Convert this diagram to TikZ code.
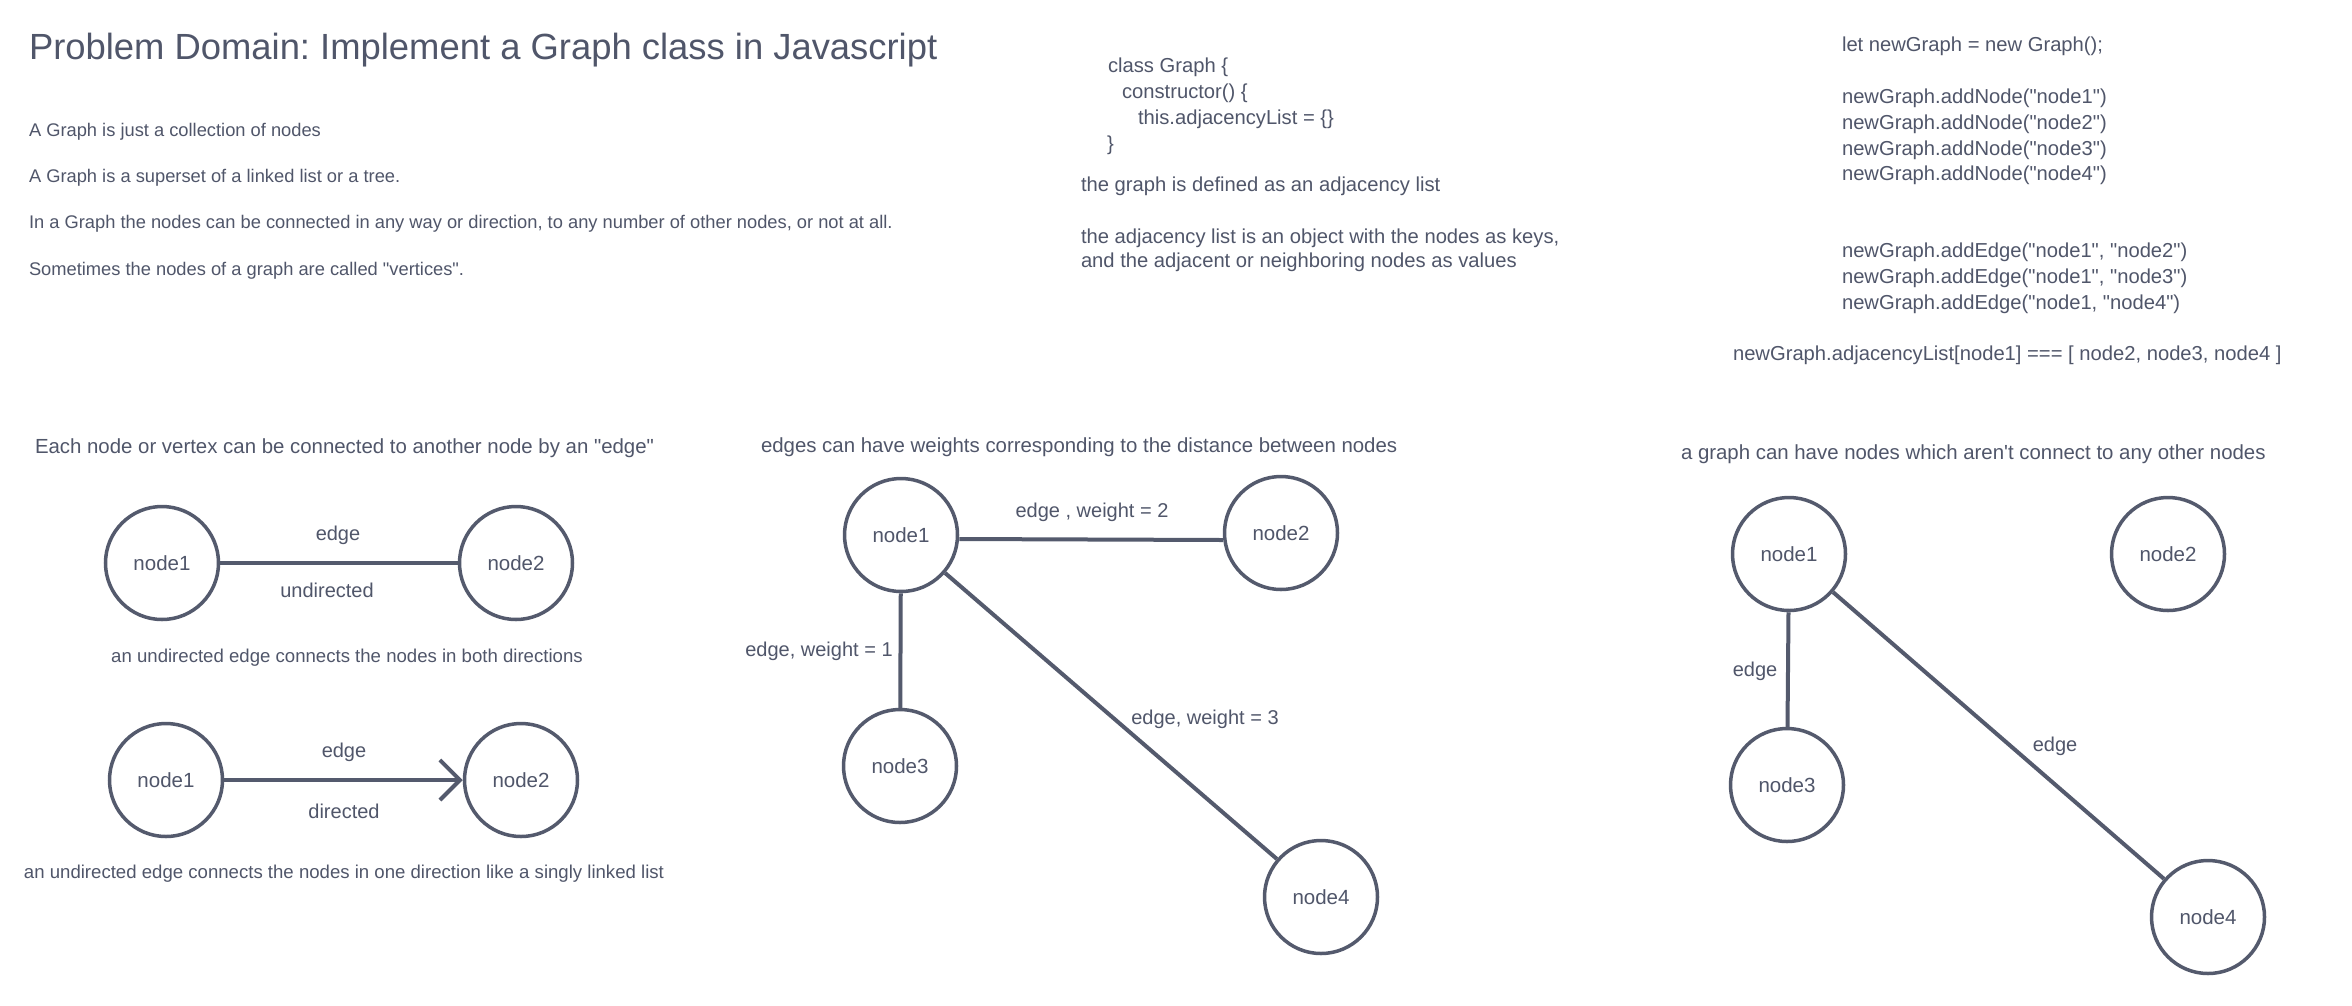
\documentclass[tikz,border=0pt]{standalone}
\usepackage{fontspec}
\setmainfont{Liberation Sans}[Ligatures=TeXOff]
\usetikzlibrary{arrows.meta}
\definecolor{ink}{HTML}{545A6D}
\definecolor{txtc}{HTML}{50566A}
\newcommand\myfs[1]{\fontsize{#1}{#1}\selectfont}
\frenchspacing
\begin{document}
\begin{tikzpicture}[x=1pt,y=-1pt,
  base/.style={text=txtc, inner sep=0pt, outer sep=0pt},
  lbl/.style={base, yshift=-5.5pt},
  titletxt/.style={base, font=\myfs{36.4}},
  bodytxt/.style={lbl, anchor=mid west, font=\myfs{18.3}},
  codetxt/.style={lbl, anchor=mid west, font=\myfs{20.2}},
  headtxt/.style={lbl, anchor=mid west, font=\myfs{20.4}},
  captxt/.style={lbl, anchor=mid, font=\myfs{18.6}},
  edgetxt/.style={lbl, anchor=mid, font=\myfs{20}},
  gnode/.style={circle, draw=ink, line width=3.5pt, minimum size=113pt, inner sep=0pt,
     text=txtc, font=\myfs{20.5}},
  conn/.style={draw=ink, line width=4pt},
  dconn/.style={conn, -{Straight Barb[length=20pt,width=40pt]}}]
\useasboundingbox[fill=white] (0,0) rectangle (2352,1005);

% ---- intro text
\node[titletxt, anchor=base west] (title) at (29,59) {Problem Domain: Implement a Graph class in Javascript};
\node[bodytxt] (l1) at (29,128) {A Graph is just a collection of nodes};
\node[bodytxt] (l2) at (29,174) {A Graph is a superset of a linked list or a tree.};
\node[bodytxt] (l3) at (29,220) {In a Graph the nodes can be connected in any way or direction, to any number of other nodes, or not at all.};
\node[bodytxt] (l4) at (29,267) {Sometimes the nodes of a graph are called "vertices".};

% ---- class code
\node[codetxt] (c1) at (1108,64) {class Graph \{};
\node[codetxt] (c2) at (1122,90) {constructor() \{};
\node[codetxt] (c3) at (1138,116) {this.adjacencyList = \{\}};
\node[codetxt] (c4) at (1107,142) {\}};
\node[codetxt] (m1) at (1081,183) {the graph is defined as an adjacency list};
\node[codetxt] (m2) at (1081,235) {the adjacency list is an object with the nodes as keys,};
\node[codetxt] (m3) at (1081,259) {and the adjacent or neighboring nodes as values};

% ---- usage code
\node[codetxt] (r0) at (1842,43) {let newGraph = new Graph();};
\node[codetxt] (r1) at (1842,95) {newGraph.addNode("node1")};
\node[codetxt] (r2) at (1842,121) {newGraph.addNode("node2")};
\node[codetxt] (r3) at (1842,147) {newGraph.addNode("node3")};
\node[codetxt] (r4) at (1842,172) {newGraph.addNode("node4")};
\node[codetxt] (r5) at (1842,249) {newGraph.addEdge("node1", "node2")};
\node[codetxt] (r6) at (1842,275) {newGraph.addEdge("node1", "node3")};
\node[codetxt] (r7) at (1842,301) {newGraph.addEdge("node1, "node4")};
\node[codetxt] (r8) at (1733,352) {newGraph.adjacencyList[node1] === [ node2, node3, node4 ]};

% ---- section headings
\node[headtxt] (h1) at (35,445) {Each node or vertex can be connected to another node by an "edge"};
\node[headtxt] (h2) at (761,444) {edges can have weights corresponding to the distance between nodes};
\node[headtxt] (h3) at (1681,451) {a graph can have nodes which aren't connect to any other nodes};

% ---- undirected / directed
\node[gnode] (a1) at (162,563) {node1};
\node[gnode] (a2) at (516,563) {node2};
\draw[conn] (a1) -- (a2);
\node[edgetxt] (ae) at (338,532) {edge};
\node[edgetxt] (au) at (327,589) {undirected};
\node[captxt] (ac) at (347,654) {an undirected edge connects the nodes in both directions};

\node[gnode] (b1) at (166,780) {node1};
\node[gnode] (b2) at (521,780) {node2};
\draw[dconn] (b1) -- (b2);
\node[edgetxt] (be) at (344,749) {edge};
\node[edgetxt] (bd) at (344,810) {directed};
\node[captxt] (bc) at (344,870) {an undirected edge connects the nodes in one direction like a singly linked list};

% ---- weighted graph
\node[gnode] (w1) at (901,535) {node1};
\node[gnode] (w2) at (1281,533) {node2};
\node[gnode] (w3) at (900,766) {node3};
\node[gnode] (w4) at (1321,897) {node4};
\draw[conn] ([yshift=-4pt]w1.east) -- ([yshift=-7pt]w2.west);
\draw[conn] (w1) -- (w3);
\draw[conn] (w1) -- (w4);
\node[edgetxt] (w12) at (1092,509) {edge , weight = 2};
\node[edgetxt] (w13) at (819,648) {edge, weight = 1};
\node[edgetxt] (w14) at (1205,716) {edge, weight = 3};

% ---- disconnected graph
\node[gnode] (d1) at (1789,554) {node1};
\node[gnode] (d2) at (2168,554) {node2};
\node[gnode] (d3) at (1787,785) {node3};
\node[gnode] (d4) at (2208,917) {node4};
\draw[conn] (d1) -- (d3);
\draw[conn] (d1) -- (d4);
\node[edgetxt] (d13) at (1755,668) {edge};
\node[edgetxt] (d14) at (2055,743) {edge};
\end{tikzpicture}
\end{document}
